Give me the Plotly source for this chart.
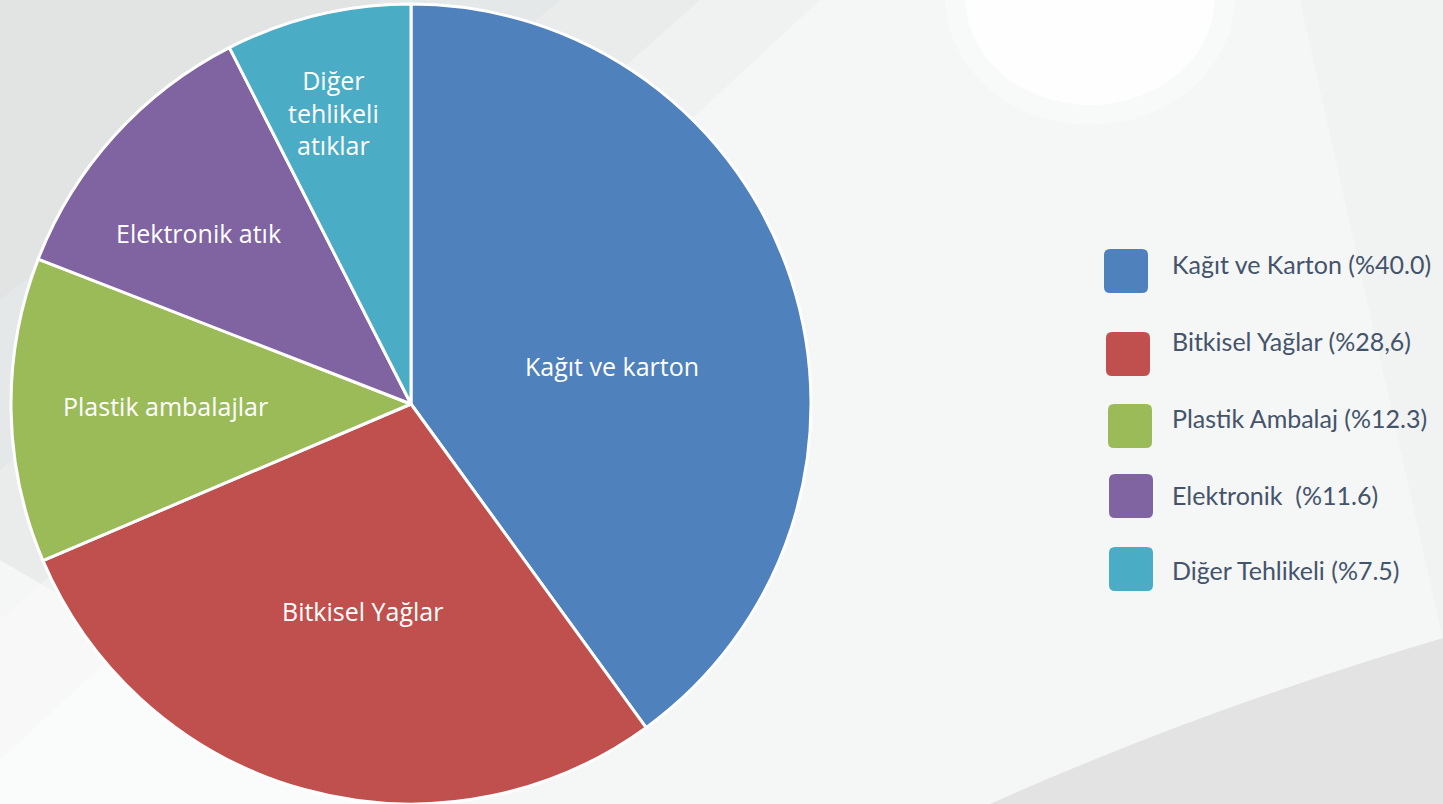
import math
import plotly.graph_objects as go

# ---- data ----
slice_labels = ["Kağıt ve karton", "Bitkisel Yağlar", "Plastik ambalajlar",
                "Elektronik atık", "Diğer<br>tehlikeli<br>atıklar"]
values = [40.0, 28.6, 12.3, 11.6, 7.5]
legend_labels = ["Kağıt ve Karton (%40.0)", "Bitkisel Yağlar (%28,6)",
                 "Plastik Ambalaj (%12.3)", "Elektronik  (%11.6)",
                 "Diğer Tehlikeli (%7.5)"]
colors = ["#4F81BD", "#C0504D", "#9BBB59", "#8064A2", "#4BACC6"]

# label placement style (radial fraction, angular nudge in degrees)
label_rfrac = [0.512, 0.532, 0.615, 0.683, 0.755]
label_dang = [7.3, -2.2, 0.4, -3.3, -1.3]

W, H = 1443, 804
CX, CY, R = 411, 404, 400


def px(x):
    return x / W


def py(y):
    return 1 - y / H


fig = go.Figure()
fig.add_trace(go.Pie(
    labels=legend_labels,
    values=values,
    textinfo="none",
    sort=False,
    direction="clockwise",
    rotation=0,
    marker=dict(colors=colors, line=dict(color="white", width=3)),
    domain=dict(x=[px(CX - R), px(CX + R)], y=[0, 2 * R / H]),
    showlegend=False,
    hoverinfo="label+value",
))

shapes = []
annotations = []

# background lighting (soft layered tones)
for ex, ey, a in [(820, 760, 0.08), (700, 620, 0.10), (560, 470, 0.10), (380, 300, 0.08)]:
    shapes.append(dict(type="path", xref="paper", yref="paper", layer="below",
                       path=f"M 0,1 L {px(ex)},1 L 0,{py(ey)} Z",
                       fillcolor=f"rgba(190,195,195,{a})", line=dict(width=0)))
shapes.append(dict(type="path", xref="paper", yref="paper", layer="below",
                   path=f"M 0,0 L {px(420)},0 L 0,{py(560)} Z",
                   fillcolor="rgba(255,255,255,0.5)", line=dict(width=0)))
shapes.append(dict(type="circle", xref="paper", yref="paper", layer="below",
                   x0=px(945), x1=px(1235), y0=py(125), y1=py(-130),
                   fillcolor="rgba(255,255,255,0.3)", line=dict(width=0)))
shapes.append(dict(type="circle", xref="paper", yref="paper", layer="below",
                   x0=px(965), x1=px(1215), y0=py(105), y1=py(-110),
                   fillcolor="rgba(255,255,255,0.8)", line=dict(width=0)))
shapes.append(dict(type="path", xref="paper", yref="paper", layer="below",
                   path=f"M {px(1300)},1 L 1,1 L 1,{py(640)} Z",
                   fillcolor="rgba(215,217,217,0.12)", line=dict(width=0)))
shapes.append(dict(type="path", xref="paper", yref="paper", layer="below",
                   path=f"M {px(990)},0 Q {px(1200)},{py(710)} 1,{py(638)} L 1,0 Z",
                   fillcolor="rgba(222,223,223,0.8)", line=dict(width=0)))

# slice labels, placed from the data's cumulative angles
cum = 0.0
total = sum(values)
for i, (lab, v) in enumerate(zip(slice_labels, values)):
    mid = (cum + v / 2) / total * 360 + label_dang[i]
    cum += v
    rr = label_rfrac[i] * R
    lx = CX + rr * math.sin(math.radians(mid))
    ly = CY - rr * math.cos(math.radians(mid))
    annotations.append(dict(x=px(lx), y=py(ly), xref="paper", yref="paper",
                            text=lab, showarrow=False, xanchor="center", yanchor="middle",
                            align="center",
                            font=dict(family="Open Sans", size=25, color="white")))

# custom legend
box_x = [1104, 1106, 1108, 1109, 1109]
box_y = [249, 332, 404, 474, 547]
text_y = [264, 341, 418, 495, 570]
sz = 44
r = 6
for i, (lab, col) in enumerate(zip(legend_labels, colors)):
    x0, y0 = box_x[i], box_y[i]
    x1, y1 = x0 + sz, y0 + sz
    path = (f"M {px(x0 + r)},{py(y0)} L {px(x1 - r)},{py(y0)} "
            f"Q {px(x1)},{py(y0)} {px(x1)},{py(y0 + r)} "
            f"L {px(x1)},{py(y1 - r)} Q {px(x1)},{py(y1)} {px(x1 - r)},{py(y1)} "
            f"L {px(x0 + r)},{py(y1)} Q {px(x0)},{py(y1)} {px(x0)},{py(y1 - r)} "
            f"L {px(x0)},{py(y0 + r)} Q {px(x0)},{py(y0)} {px(x0 + r)},{py(y0)} Z")
    shapes.append(dict(type="path", xref="paper", yref="paper", path=path,
                       fillcolor=col, line=dict(width=0)))
    annotations.append(dict(x=px(1170), y=py(text_y[i]), xref="paper", yref="paper",
                            text=lab, showarrow=False, xanchor="left", yanchor="middle",
                            font=dict(family="Lato", size=25, color="#44546A")))

fig.update_layout(
    width=W, height=H,
    margin=dict(l=0, r=0, t=0, b=0),
    paper_bgcolor="#F5F6F6",
    plot_bgcolor="#F5F6F6",
    shapes=shapes,
    annotations=annotations,
)

fig.write_html("out.html", config={"displayModeBar": False},
               post_script="document.body.style.margin='0px';document.body.style.overflow='hidden';")
